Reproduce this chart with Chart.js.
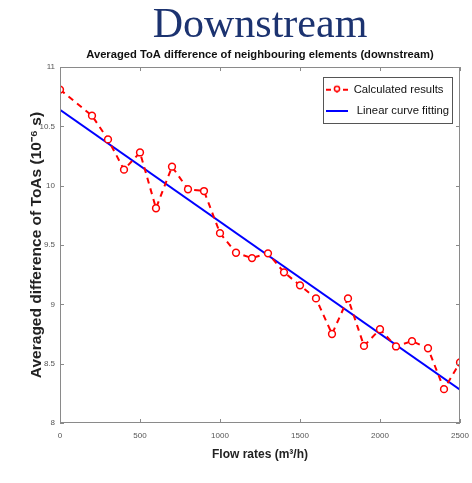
<!DOCTYPE html>
<html>
<head>
<meta charset="utf-8">
<title>Downstream</title>
<script src="https://cdn.jsdelivr.net/npm/chart.js@4.4.1/dist/chart.umd.min.js"></script>
<style>
  html, body { margin: 0; padding: 0; background: #fff; }
  #wrap { width: 472px; height: 483px; position: relative; }
</style>
</head>
<body>
<div id="wrap"><canvas id="chart"></canvas></div>
<script>
// flow rates (m3/h) and the averaged ToA differences
const flowRates = [0, 200, 300, 400, 500, 600, 700, 800, 900, 1000, 1100, 1200, 1300,
                   1400, 1500, 1600, 1700, 1800, 1900, 2000, 2100, 2200, 2300, 2400, 2500];
const calculated = [10.81, 10.59, 10.39, 10.135, 10.28, 9.81, 10.16, 9.97, 9.955, 9.60, 9.435, 9.39, 9.43,
                    9.27, 9.16, 9.05, 8.75, 9.05, 8.65, 8.79, 8.645, 8.69, 8.63, 8.285, 8.51];

// linear fit end points
const fitX = [0, 2500];
const fitY = [10.64, 8.28];

const xTicks = [0, 500, 1000, 1500, 2000, 2500];
const yTicks = [8, 8.5, 9, 9.5, 10, 10.5, 11];

const SANS = '"Liberation Sans", Arial, sans-serif';

// little legend icons (line + marker)
function makeIcon(kind) {
    const c = document.createElement('canvas');
    c.width = 22; c.height = 12;
    const g = c.getContext('2d');
    if (kind === 'dash') {
        g.strokeStyle = '#ff0000';
        g.lineWidth = 2;
        g.beginPath();
        g.moveTo(0, 6); g.lineTo(5, 6);
        g.moveTo(17, 6); g.lineTo(22, 6);
        g.stroke();
        g.beginPath();
        g.arc(11, 5, 2.6, 0, Math.PI * 2);
        g.fillStyle = '#fff';
        g.fill();
        g.lineWidth = 1.5;
        g.stroke();
        g.beginPath();
        g.moveTo(11, 7.5); g.lineTo(11, 9);
        g.stroke();
    } else {
        g.strokeStyle = '#0000ff';
        g.lineWidth = 2;
        g.beginPath();
        g.moveTo(0, 6); g.lineTo(22, 6);
        g.stroke();
    }
    return c;
}
const legendIcons = [makeIcon('dash'), makeIcon('line')];

// legend frame, kept relative to the plot area
const legendBox = { right: 8, top: 10, width: 129, height: 46 };

const framePlugin = {
    id: 'frame',
    afterLayout(chart) {
        // put the legend inside the plot, top right
        const lg = chart.legend, a = chart.chartArea;
        const pad = chart.options.plugins.legend.labels.padding;
        const bx = a.right - legendBox.right - legendBox.width;
        const by = a.top + legendBox.top;
        lg.left = bx + 3 - pad;
        lg.top = by - 3;
        lg.right = a.right - legendBox.right;
        lg.bottom = a.bottom;
        lg.width = lg.right - lg.left;
        lg.height = lg.bottom - lg.top;
        chart.$legendFrame = { x: bx, y: by };
    },
    afterDatasetsDraw(chart) {
        const ctx = chart.ctx, a = chart.chartArea;
        const xs = chart.scales.x, ys = chart.scales.y;
        ctx.save();
        ctx.strokeStyle = '#8a8a8a';
        ctx.lineWidth = 1;
        ctx.strokeRect(Math.round(a.left) + 0.5, Math.round(a.top) + 0.5,
                       Math.round(a.width) - 1, Math.round(a.height) - 1);
        ctx.beginPath();
        xs.ticks.forEach(t => {
            const px = Math.round(xs.getPixelForValue(t.value)) + 0.5;
            ctx.moveTo(px, a.bottom); ctx.lineTo(px, a.bottom - 4);
            ctx.moveTo(px, a.top); ctx.lineTo(px, a.top + 4);
        });
        ys.ticks.forEach(t => {
            const py = Math.round(ys.getPixelForValue(t.value)) + 0.5;
            ctx.moveTo(a.left, py); ctx.lineTo(a.left + 4, py);
            ctx.moveTo(a.right, py); ctx.lineTo(a.right - 4, py);
        });
        ctx.stroke();
        ctx.restore();
    },
    afterDraw(chart) {
        const f = chart.$legendFrame, ctx = chart.ctx;
        if (!f) return;
        ctx.save();
        ctx.strokeStyle = '#555';
        ctx.lineWidth = 1;
        ctx.strokeRect(Math.round(f.x) + 0.5, Math.round(f.y) + 0.5, legendBox.width, legendBox.height);
        ctx.restore();
    }
};

new Chart(document.getElementById('chart'), {
    type: 'line',
    data: {
        datasets: [
            {
                label: 'Calculated results',
                data: flowRates.map((x, i) => ({ x: x, y: calculated[i] })),
                borderColor: '#ff0000',
                borderWidth: 2,
                borderDash: [6, 5],
                pointRadius: 3.4,
                pointBorderWidth: 1.5,
                pointBorderColor: '#ff0000',
                pointBackgroundColor: '#ffffff',
                tension: 0
            },
            {
                label: ' Linear curve fitting',
                data: fitX.map((x, i) => ({ x: x, y: fitY[i] })),
                borderColor: '#0000ff',
                borderWidth: 2,
                pointRadius: 0,
                tension: 0
            }
        ]
    },
    options: {
        responsive: true,
        maintainAspectRatio: false,
        animation: false,
        layout: { padding: { left: 0, right: 12, top: 0, bottom: 0 } },
        plugins: {
            title: {
                display: true,
                fullSize: false,
                text: 'Downstream',
                color: '#1c3370',
                font: { family: '"Liberation Serif", "Times New Roman", serif', size: 42, weight: 'normal', lineHeight: 1 },
                padding: { top: 5, bottom: 0 }
            },
            subtitle: {
                display: true,
                fullSize: false,
                text: 'Averaged ToA difference of neighbouring elements (downstream)',
                color: '#111',
                font: { family: SANS, size: 11.2, weight: 'bold', lineHeight: 1.2 },
                padding: { top: 1, bottom: 5.6 }
            },
            legend: {
                position: 'chartArea',
                align: 'start',
                labels: {
                    usePointStyle: true,
                    pointStyleWidth: 22,
                    padding: 10,
                    color: '#111',
                    font: { family: SANS, size: 11.3 },
                    generateLabels: (chart) => chart.data.datasets.map((ds, i) => ({
                        text: ds.label,
                        pointStyle: legendIcons[i],
                        fillStyle: ds.borderColor,
                        strokeStyle: ds.borderColor,
                        lineWidth: 0,
                        hidden: false,
                        datasetIndex: i,
                        fontColor: '#111'
                    }))
                }
            },
            tooltip: { enabled: false }
        },
        scales: {
            x: {
                type: 'linear',
                min: 0,
                max: 2500,
                afterBuildTicks: (scale) => { scale.ticks = xTicks.map(v => ({ value: v })); },
                afterFit: (scale) => {
                    scale.height = 60;
                    scale.paddingLeft = 0;
                    scale.paddingRight = 0;
                },
                grid: { display: false, drawTicks: false },
                border: { display: false },
                ticks: {
                    padding: 8,
                    color: '#555',
                    font: { family: SANS, size: 8 },
                    maxRotation: 0,
                    callback: (v) => String(v)
                },
                title: {
                    display: true,
                    text: 'Flow rates (m³/h)',
                    color: '#222',
                    font: { family: SANS, size: 12, weight: 'bold', lineHeight: 1.2 },
                    padding: { top: 0, bottom: 21 }
                }
            },
            y: {
                min: 8,
                max: 11,
                afterBuildTicks: (scale) => { scale.ticks = yTicks.map(v => ({ value: v })); },
                afterFit: (scale) => {
                    scale.width = 60;
                    scale.paddingTop = 0;
                    scale.paddingBottom = 0;
                },
                grid: { display: false, drawTicks: false },
                border: { display: false },
                ticks: {
                    padding: 5,
                    color: '#555',
                    font: { family: SANS, size: 8 },
                    callback: (v) => String(v)
                },
                title: {
                    display: true,
                    text: 'Averaged difference of ToAs (10⁻⁶ s)',
                    color: '#222',
                    font: { family: SANS, size: 15.5, weight: 'bold', lineHeight: 1.2 },
                    padding: { top: 27, bottom: 0 }
                }
            }
        }
    },
    plugins: [framePlugin]
});
</script>
</body>
</html>
